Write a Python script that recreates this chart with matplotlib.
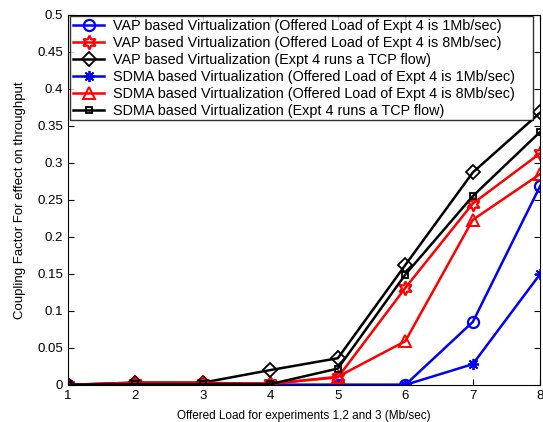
import matplotlib
matplotlib.use("Agg")
import matplotlib.pyplot as plt
from matplotlib.ticker import FormatStrFormatter

plt.rcParams['font.family'] = ['Liberation Sans', 'DejaVu Sans']

# offered load for experiments 1,2 and 3 (Mb/sec)
load = [1, 2, 3, 4, 5, 6, 7, 8]

vap_1mb = [0, 0, 0, 0, 0, 0, 0.085, 0.269]
vap_8mb = [0, 0.002, 0.002, 0.002, 0.010, 0.131, 0.245, 0.313]
vap_tcp = [0, 0.003, 0.003, 0.020, 0.036, 0.162, 0.287, 0.368]
sdma_1mb = [0, 0, 0, 0, 0, 0, 0.028, 0.150]
sdma_8mb = [0, 0.003, 0.003, 0.001, 0.011, 0.059, 0.223, 0.285]
sdma_tcp = [0, 0.001, 0.001, 0.001, 0.022, 0.149, 0.255, 0.342]

labels = [
    'VAP based Virtualization (Offered Load of Expt 4 is 1Mb/sec)',
    'VAP based Virtualization (Offered Load of Expt 4 is 8Mb/sec)',
    'VAP based Virtualization (Expt 4 runs a TCP flow)',
    'SDMA based Virtualization (Offered Load of Expt 4 is 1Mb/sec)',
    'SDMA based Virtualization (Offered Load of Expt 4 is 8Mb/sec)',
    'SDMA based Virtualization (Expt 4 runs a TCP flow)',
]

fig = plt.figure(figsize=(5.43, 4.22), dpi=100)
ax = fig.add_axes([0.125, 0.088, 0.87, 0.877])

lw = 1.8
ax.plot(load, vap_1mb, color='blue', marker='o', ms=8, mfc='none', mew=1.6, lw=lw, label=labels[0])
ax.plot(load, vap_8mb, color='red', marker=(6, 1, 0), ms=10, mfc='none', mew=1.6, lw=lw, label=labels[1])
ax.plot(load, vap_tcp, color='black', marker='D', ms=7, mfc='none', mew=1.3, lw=lw, label=labels[2])
ax.plot(load, sdma_1mb, color='blue', marker=(8, 2, 0), ms=8, mew=1.3, lw=lw, label=labels[3])
ax.plot(load, sdma_8mb, color='red', marker='^', ms=9, mfc='none', mew=1.4, lw=lw, label=labels[4])
ax.plot(load, sdma_tcp, color='black', marker='s', ms=5, mfc='none', mew=1.3, lw=lw, label=labels[5])

ax.set_xlim(1, 8)
ax.set_ylim(0, 0.5)
ax.set_xticks(range(1, 9))
ax.set_yticks([i * 0.05 for i in range(11)])
ax.yaxis.set_major_formatter(FormatStrFormatter('%g'))
ax.tick_params(direction='in', top=True, right=True, labelsize=9.5, length=4)
ax.set_xlabel('Offered Load for experiments 1,2 and 3 (Mb/sec)', fontsize=8.5, labelpad=6)
ax.set_ylabel('Coupling Factor For effect on throughput', fontsize=9.5, labelpad=8)

leg = ax.legend(loc='upper left', bbox_to_anchor=(0.004, 0.996, 0.98, 0), mode='expand',
                borderaxespad=0, fontsize=10.4, frameon=True, fancybox=False,
                edgecolor='black', handlelength=2.2,
                labelspacing=0.2, borderpad=0.2, handletextpad=0.6)
leg.get_frame().set_linewidth(1.0)

fig.savefig('out.png', dpi=100)
